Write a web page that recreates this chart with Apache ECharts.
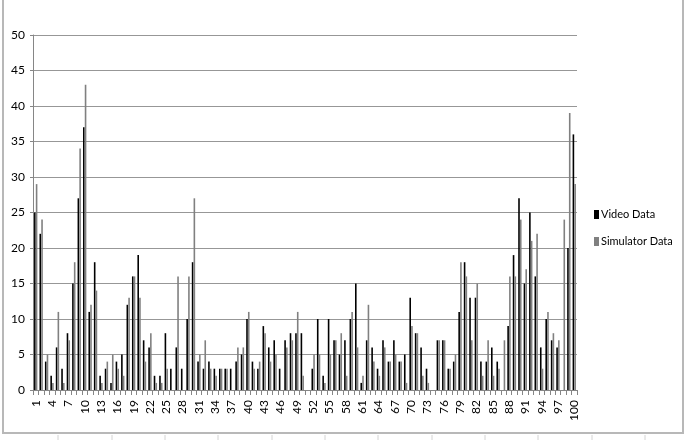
<!DOCTYPE html>
<html>
<head>
<meta charset="utf-8">
<script src="https://cdn.jsdelivr.net/npm/echarts@6/dist/echarts.min.js"></script>
<style>
  html, body { margin: 0; padding: 0; background: #ffffff; }
  #chart { width: 694px; height: 440px; }
</style>
</head>
<body>
<div id="chart"></div>
<script>
var categories = [];
for (var i = 1; i <= 100; i++) categories.push(String(i));

var seriesNames = ["Video Data", "Simulator Data"];

var videoData = [
  25, 22, 4, 2, 6, 3, 8, 15, 27, 37,
  11, 18, 2, 3, 1, 4, 5, 12, 16, 19,
  7, 6, 2, 2, 8, 3, 6, 3, 10, 18,
  4, 3, 4, 3, 3, 3, 3, 4, 5, 10,
  4, 3, 9, 6, 7, 3, 7, 8, 8, 8,
  0, 3, 10, 2, 10, 7, 5, 7, 10, 15,
  1, 7, 6, 3, 7, 4, 7, 4, 5, 13,
  8, 6, 3, 0, 7, 7, 3, 4, 11, 18,
  13, 13, 4, 4, 6, 4, 0, 9, 19, 27,
  15, 25, 16, 6, 10, 7, 6, 0, 20, 36
];

var simulatorData = [
  29, 24, 5, 1, 11, 1, 7, 18, 34, 43,
  12, 14, 1, 4, 5, 3, 2, 13, 16, 13,
  4, 8, 1, 1, 3, 0, 16, 0, 16, 27,
  5, 7, 3, 2, 3, 3, 0, 6, 6, 11,
  3, 4, 8, 4, 5, 0, 6, 7, 11, 2,
  0, 5, 5, 1, 5, 7, 8, 2, 11, 6,
  2, 12, 4, 2, 6, 4, 5, 4, 1, 9,
  8, 2, 1, 0, 7, 7, 3, 5, 18, 16,
  7, 15, 2, 7, 2, 3, 7, 16, 16, 24,
  17, 21, 22, 3, 11, 8, 7, 24, 39, 29
];

var FONT = "Lato, 'Liberation Sans', sans-serif";
var chart = echarts.init(document.getElementById('chart'), null, { renderer: 'canvas' });

var sheetLines = [];
var colX = [58, 112, 165, 218, 272, 325, 378, 432, 485, 538, 592, 645];
colX.forEach(function (x) {
  sheetLines.push({
    type: 'line',
    shape: { x1: x, y1: 435, x2: x, y2: 440 },
    style: { stroke: '#d4d4d4', lineWidth: 1 },
    silent: true
  });
});

var option = {
  animation: false,
  backgroundColor: '#ffffff',
  textStyle: { fontFamily: FONT },
  graphic: [{
    type: 'rect',
    shape: { x: 3, y: -2, width: 680, height: 435 },
    style: { fill: 'none', stroke: '#b8b8b8', lineWidth: 2 },
    silent: true,
    z: -10
  }].concat(sheetLines),
  grid: { left: 33, right: 117, top: 35, bottom: 50, containLabel: false },
  legend: {
    orient: 'vertical',
    left: 589,
    top: 204,
    itemWidth: 5,
    itemHeight: 9,
    itemGap: 16,
    icon: 'rect',
    data: seriesNames,
    textStyle: { fontFamily: FONT, fontSize: 11, color: '#000000', padding: [0, 0, 0, -3] }
  },
  xAxis: {
    type: 'category',
    data: categories,
    axisLine: { show: true, lineStyle: { color: '#868686', width: 1 } },
    axisTick: { show: true, interval: 0, length: 5, lineStyle: { color: '#868686' } },
    axisLabel: {
      interval: 2,
      rotate: 90,
      margin: 10,
      fontSize: 12,
      fontFamily: FONT,
      color: '#000000'
    },
    splitLine: { show: false }
  },
  yAxis: {
    type: 'value',
    min: 0,
    max: 50,
    interval: 5,
    axisLine: { show: true, lineStyle: { color: '#868686', width: 1 } },
    axisTick: { show: true, length: 3, lineStyle: { color: '#868686' } },
    axisLabel: { fontSize: 12, fontFamily: FONT, color: '#000000', margin: 8 },
    splitLine: { show: true, lineStyle: { color: '#979797', width: 1 } }
  },
  series: [
    {
      name: seriesNames[0],
      type: 'bar',
      data: videoData,
      barWidth: 1.6,
      barGap: '10%',
      itemStyle: { color: '#000000' }
    },
    {
      name: seriesNames[1],
      type: 'bar',
      data: simulatorData,
      barWidth: 1.6,
      barGap: '10%',
      itemStyle: { color: '#808080' }
    }
  ]
};
chart.setOption(option);
</script>
</body>
</html>
